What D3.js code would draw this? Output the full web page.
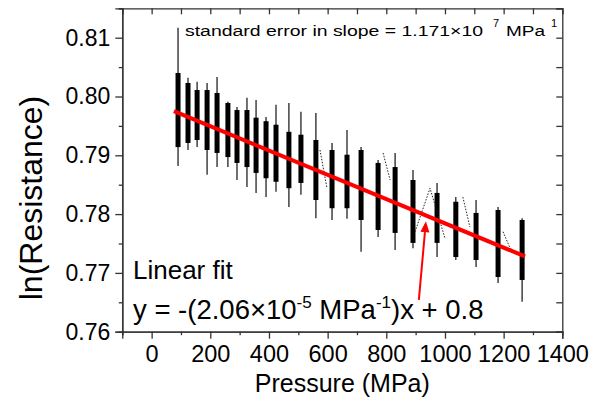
<!DOCTYPE html>
<html>
<head>
<meta charset="utf-8">
<script src="https://cdn.jsdelivr.net/npm/d3@7"></script>
<style>
  body { margin: 0; background: #fff; }
  text { font-family: "Liberation Sans", Arial, sans-serif; fill: #000; }
</style>
</head>
<body>
<div id="chart"></div>
<script>
// pressure steps (MPa) and the spread of ln(R) at each step
const pressure = [90, 124, 155, 189, 223, 260, 291, 325, 356, 390, 424, 468, 509,
  560, 615, 666, 714, 772, 830, 891, 973, 1037, 1106, 1181, 1263];
const coreHigh = [0.8040, 0.8023, 0.8011, 0.8011, 0.8006, 0.7989, 0.7977, 0.7977, 0.7964,
  0.7958, 0.7952, 0.7940, 0.7935, 0.7926, 0.7909, 0.7901, 0.7909, 0.7887, 0.7880,
  0.7858, 0.7836, 0.7821, 0.7802, 0.7807, 0.7790];
const coreLow = [0.7914, 0.7921, 0.7926, 0.7909, 0.7904, 0.7897, 0.7887, 0.7880, 0.7870,
  0.7861, 0.7855, 0.7844, 0.7853, 0.7824, 0.7810, 0.7810, 0.7790, 0.7773, 0.7768,
  0.7751, 0.7751, 0.7727, 0.7722, 0.7693, 0.7688];
const tailHigh = [0.8117, 0.8032, 0.8025, 0.8023, 0.8033, 0.7991, 0.7982, 0.7998, 0.7994,
  0.7965, 0.7986, 0.7989, 0.7974, 0.7972, 0.7921, 0.7943, 0.7914, 0.7892, 0.7904,
  0.7875, 0.7853, 0.7829, 0.7824, 0.7812, 0.7793];
const tailLow = [0.7882, 0.7909, 0.7914, 0.7867, 0.7880, 0.7880, 0.7858, 0.7846, 0.7836,
  0.7829, 0.7838, 0.7812, 0.7833, 0.7793, 0.7790, 0.7792, 0.7736, 0.7761, 0.7739,
  0.7742, 0.7727, 0.7722, 0.7710, 0.7683, 0.7651];

// thin dotted transitions between steps
const traces = [
  [[574, 0.7909], [597, 0.7846]],
  [[789, 0.7904], [813, 0.7858]],
  [[898, 0.7770], [949, 0.7844], [1000, 0.7759]],
  [[1061, 0.7829], [1085, 0.7778]],
  [[1198, 0.7770], [1222, 0.7742], [1246, 0.7734]]
];

// linear fit and arrow
const fitPressure = [76, 1273];
const fitValue = [0.7975, 0.7728];
const arrowFrom = [911, 0.7654];
const arrowTo = [935, 0.7788];

const xMajor = [0, 200, 400, 600, 800, 1000, 1200, 1400];
const xMinor = [-100, 100, 300, 500, 700, 900, 1100, 1300];
const yMajor = [0.76, 0.77, 0.78, 0.79, 0.80, 0.81];
const yMinor = [0.765, 0.775, 0.785, 0.795, 0.805, 0.815];

const W = 603, H = 399;
const margin = { top: 8.3, right: 40.7, bottom: 67.3, left: 122.3 },
  width = W - margin.left - margin.right,
  height = H - margin.top - margin.bottom;

const svg = d3.select("#chart").append("svg")
  .attr("width", W).attr("height", H);

const x = d3.scaleLinear().domain([-100, 1400]).range([0, width]);
const y = d3.scaleLinear().domain([0.76, 0.815]).range([height, 0]);

const g = svg.append("g").attr("transform", `translate(${margin.left},${margin.top})`);

// data clusters
const clusters = g.append("g");
pressure.forEach((p, i) => {
  clusters.append("line")
    .attr("x1", x(p)).attr("x2", x(p))
    .attr("y1", y(tailHigh[i])).attr("y2", y(tailLow[i]))
    .attr("stroke", "#111").attr("stroke-width", 1.2);
  clusters.append("rect")
    .attr("x", x(p) - 2.5)
    .attr("width", 5)
    .attr("y", y(coreHigh[i]))
    .attr("height", y(coreLow[i]) - y(coreHigh[i]))
    .attr("fill", "#000");
});

const line = d3.line().x(d => x(d[0])).y(d => y(d[1]));
g.append("g").selectAll("path")
  .data(traces)
  .join("path")
  .attr("d", line)
  .attr("fill", "none")
  .attr("stroke", "#222")
  .attr("stroke-width", 1)
  .attr("stroke-dasharray", "1.5,1.5");

// fit line
g.append("line")
  .attr("x1", x(fitPressure[0])).attr("y1", y(fitValue[0]))
  .attr("x2", x(fitPressure[1])).attr("y2", y(fitValue[1]))
  .attr("stroke", "#ff0000").attr("stroke-width", 4);

// arrow
const ax1 = x(arrowFrom[0]), ay1 = y(arrowFrom[1]);
const ax2 = x(arrowTo[0]), ay2 = y(arrowTo[1]);
const ang = Math.atan2(ay2 - ay1, ax2 - ax1);
const headLen = 11, headW = 4.5;
const bx = ax2 - headLen * Math.cos(ang), by = ay2 - headLen * Math.sin(ang);
g.append("line")
  .attr("x1", ax1).attr("y1", ay1).attr("x2", bx).attr("y2", by)
  .attr("stroke", "#ff0000").attr("stroke-width", 2);
g.append("polygon")
  .attr("points", [
    [ax2, ay2],
    [bx + headW * Math.sin(ang), by - headW * Math.cos(ang)],
    [bx - headW * Math.sin(ang), by + headW * Math.cos(ang)]
  ].map(d => d.join(",")).join(" "))
  .attr("fill", "#ff0000");

// axes
const axisColor = "#333";
function styleAxis(sel, showText) {
  sel.select(".domain").attr("stroke", axisColor).attr("stroke-width", 1.3);
  sel.selectAll(".tick line").attr("stroke", axisColor).attr("stroke-width", 1.3);
  if (!showText) sel.selectAll(".tick text").remove();
}

g.append("g")
  .attr("transform", `translate(0,${height})`)
  .call(d3.axisBottom(x).tickValues(xMinor).tickSize(3.5).tickFormat(""))
  .call(s => styleAxis(s, false));
g.append("g")
  .attr("transform", `translate(0,${height})`)
  .call(d3.axisBottom(x).tickValues(xMajor).tickSize(7).tickPadding(7).tickFormat(d3.format("d")))
  .call(s => styleAxis(s, true))
  .selectAll("text").attr("font-size", 23.5).attr("fill", "#000")
  .style("font-family", "'Liberation Sans', Arial, sans-serif");

g.append("g")
  .call(d3.axisLeft(y).tickValues(yMinor).tickSize(3.5).tickFormat(""))
  .call(s => styleAxis(s, false));
g.append("g")
  .call(d3.axisLeft(y).tickValues(yMajor).tickSize(7).tickPadding(5).tickFormat(d3.format(".2f")))
  .call(s => styleAxis(s, true))
  .selectAll("text").attr("font-size", 23).attr("fill", "#000")
  .style("font-family", "'Liberation Sans', Arial, sans-serif");

g.append("g")
  .call(d3.axisTop(x).tickValues(xMajor.concat(xMinor)).tickSize(-6).tickFormat(""))
  .call(s => styleAxis(s, false));
g.append("g")
  .attr("transform", `translate(${width},0)`)
  .call(d3.axisRight(y).tickValues(yMajor.concat(yMinor)).tickSize(-6).tickFormat(""))
  .call(s => styleAxis(s, false));

// axis titles
svg.append("text")
  .attr("x", margin.left + width / 2)
  .attr("y", 392)
  .attr("text-anchor", "middle")
  .attr("font-size", 25)
  .text("Pressure (MPa)");

svg.append("text")
  .attr("transform", "translate(42,198) rotate(-90)")
  .attr("text-anchor", "middle")
  .attr("font-size", 32)
  .text("ln(Resistance)");

// annotations
svg.append("text")
  .attr("x", 185).attr("y", 36)
  .attr("font-size", 15.5)
  .attr("textLength", 298).attr("lengthAdjust", "spacingAndGlyphs")
  .text("standard error in slope = 1.171×10");
svg.append("text").attr("x", 493).attr("y", 27).attr("font-size", 11).text("7");
svg.append("text")
  .attr("x", 506).attr("y", 36)
  .attr("font-size", 15.5)
  .attr("textLength", 39).attr("lengthAdjust", "spacingAndGlyphs")
  .text("MPa");
svg.append("text").attr("x", 551).attr("y", 27).attr("font-size", 11).text("1");

svg.append("text")
  .attr("x", 133).attr("y", 279)
  .attr("font-size", 26)
  .text("Linear fit");

const eq = svg.append("text")
  .attr("x", 133).attr("y", 319)
  .attr("font-size", 27.5);
eq.append("tspan").text("y = -(2.06×10");
eq.append("tspan").attr("dy", -11).attr("font-size", 17).text("-5");
eq.append("tspan").attr("dy", 11).text(" MPa");
eq.append("tspan").attr("dy", -11).attr("font-size", 17).text("-1");
eq.append("tspan").attr("dy", 11).text(")x + 0.8");
</script>
</body>
</html>
